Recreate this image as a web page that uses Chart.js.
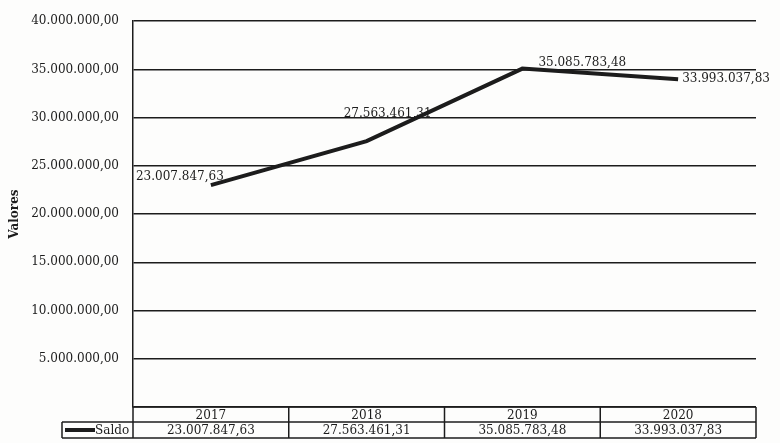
<!DOCTYPE html>
<html>
<head>
<meta charset="utf-8">
<script src="https://cdn.jsdelivr.net/npm/chart.js@4/dist/chart.umd.min.js"></script>
<style>
  body { margin: 0; background: #fdfdfc; }
  #wrap { width: 780px; height: 443px; }
</style>
</head>
<body>
<div id="wrap"><canvas id="grafica"></canvas></div>
<script>
const anios = ["2017", "2018", "2019", "2020"]
const saldo = [23007847.63, 27563461.31, 35085783.48, 33993037.83]
const nombreSerie = "Saldo"
const tituloEje = "Valores"

const fuente = "'DejaVu Serif', 'Liberation Serif', serif"
const tinta = "#1c1c1c"

const formato = (v) => {
    const partes = v.toFixed(2).split(".")
    return partes[0].replace(/\B(?=(\d{3})+(?!\d))/g, ".") + "," + partes[1]
}

// etiquetas de datos, desplazadas como en la imagen
const etiquetas = {
    id: "etiquetas",
    afterDatasetsDraw(chart) {
        const ctx = chart.ctx
        const meta = chart.getDatasetMeta(0)
        const desp = [[-31, -8, "center"], [21, -27, "center"], [16, -6, "left"], [4, 0, "left"]]
        ctx.save()
        ctx.font = "12px " + fuente
        ctx.fillStyle = tinta
        ctx.textBaseline = "middle"
        meta.data.forEach((p, i) => {
            ctx.textAlign = desp[i][2]
            ctx.fillText(formato(saldo[i]), p.x + desp[i][0], p.y + desp[i][1])
        })
        ctx.restore()
    }
}

// tabla de datos bajo el grafico
const tabla = {
    id: "tabla",
    afterDraw(chart) {
        const ctx = chart.ctx
        const area = chart.chartArea
        const x = chart.scales.x
        const ancho = (area.right - area.left) / anios.length
        const y0 = area.bottom
        const y1 = y0 + 15
        const y2 = y1 + 16
        const izq = 62
        ctx.save()
        ctx.strokeStyle = tinta
        ctx.lineWidth = 1.5
        ctx.beginPath()
        ctx.moveTo(area.left, y0); ctx.lineTo(area.right, y0)
        ctx.moveTo(izq, y1); ctx.lineTo(area.right, y1)
        ctx.moveTo(izq, y2); ctx.lineTo(area.right, y2)
        ctx.moveTo(izq, y1); ctx.lineTo(izq, y2)
        for (let i = 0; i <= anios.length; i++) {
            const cx = area.left + i * ancho
            ctx.moveTo(cx, y0); ctx.lineTo(cx, y2)
        }
        ctx.stroke()

        ctx.font = "12px " + fuente
        ctx.fillStyle = tinta
        ctx.textBaseline = "middle"
        ctx.textAlign = "center"
        anios.forEach((a, i) => {
            const cx = x.getPixelForValue(i)
            ctx.fillText(a, cx, (y0 + y1) / 2 + 1)
            ctx.fillText(formato(saldo[i]), cx, (y1 + y2) / 2 + 1)
        })

        ctx.lineWidth = 4
        ctx.beginPath()
        ctx.moveTo(izq + 3, (y1 + y2) / 2); ctx.lineTo(izq + 33, (y1 + y2) / 2)
        ctx.stroke()
        ctx.textAlign = "left"
        ctx.fillText(nombreSerie, izq + 33, (y1 + y2) / 2 + 1)
        ctx.restore()
    }
}

new Chart(document.querySelector("#grafica"), {
    type: "line",
    data: {
        labels: anios,
        datasets: [{
            label: nombreSerie,
            data: saldo,
            borderColor: tinta,
            borderWidth: 4,
            pointRadius: 0,
            tension: 0
        }]
    },
    options: {
        responsive: true,
        maintainAspectRatio: false,
        animation: false,
        layout: { padding: { top: 18, right: 24, bottom: 36, left: 0 } },
        plugins: {
            legend: { display: false },
            tooltip: { enabled: false }
        },
        scales: {
            x: {
                display: false,
                offset: true
            },
            y: {
                min: 0,
                max: 40000000,
                afterFit: (s) => { s.width = 133 },
                ticks: {
                    stepSize: 5000000,
                    padding: 14,
                    color: tinta,
                    font: { family: fuente, size: 12 },
                    callback: (v) => v === 0 ? "" : formato(v)
                },
                grid: {
                    color: tinta,
                    lineWidth: 1.5,
                    drawTicks: false
                },
                border: { display: true, color: tinta, width: 1.5 },
                title: {
                    display: true,
                    text: tituloEje,
                    color: tinta,
                    font: { family: fuente, size: 12, weight: "bold" },
                    padding: { top: 8, bottom: 8 }
                }
            }
        }
    },
    plugins: [etiquetas, tabla]
})
</script>
</body>
</html>
